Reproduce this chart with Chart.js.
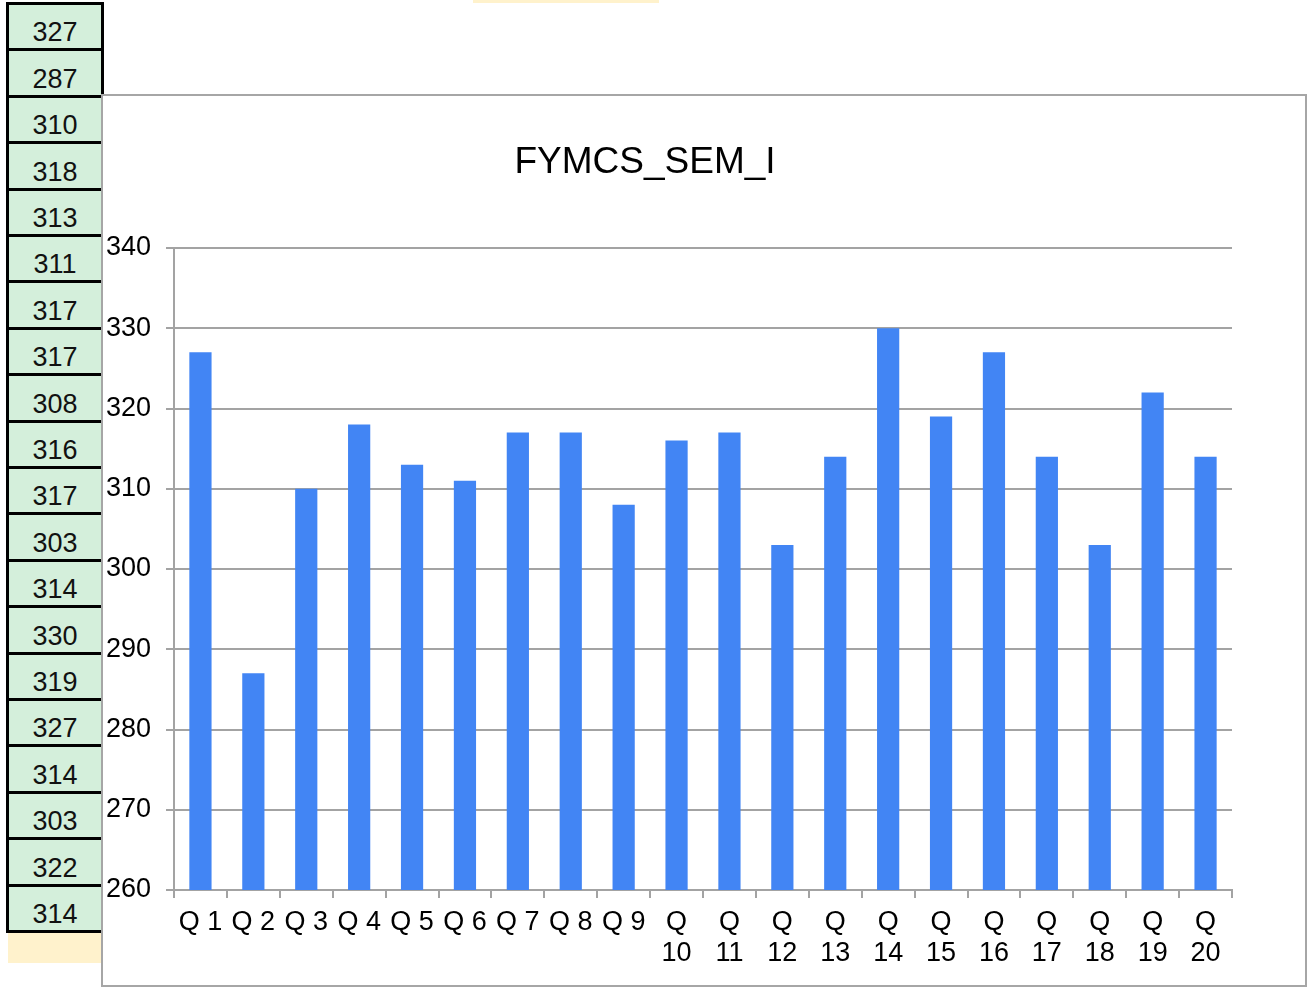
<!DOCTYPE html>
<html lang="en">
    <head>
        <meta charset="utf-8" />
        <title>FYMCS_SEM_I</title>
        <style>
            body {
                margin: 0;
                background: #ffffff;
                font-family: "Liberation Sans", Arial, sans-serif;
                width: 1308px;
                height: 988px;
                position: relative;
                overflow: hidden;
            }
            .sheet-col {
                position: absolute;
                left: 6px;
                top: 2px;
                width: 98px;
                height: 931px;
                box-sizing: border-box;
                border-left: 3px solid #000;
                border-right: 3px solid #000;
                background: #d4efdb;
            }
            .cell {
                position: absolute;
                left: 0;
                width: 92px;
                height: 46.4px;
                box-sizing: border-box;
                border-top: 3px solid #000;
            }
            .cell span {
                position: absolute;
                left: 0;
                right: 0;
                bottom: 2px;
                text-align: center;
                font-size: 27px;
                line-height: 27px;
                color: #111;
            }
            .cell.last {
                height: 3px;
                background: #000;
            }
            .yellow-top {
                position: absolute;
                left: 473px;
                top: 0;
                width: 186px;
                height: 3px;
                background: #fff2cc;
            }
            .yellow-bottom {
                position: absolute;
                left: 8px;
                top: 933px;
                width: 95px;
                height: 30px;
                background: #fff2cc;
            }
            .chart-box {
                position: absolute;
                left: 101px;
                top: 94px;
                width: 1206px;
                height: 893px;
                box-sizing: border-box;
                border: 2px solid #a6a6a6;
                background: #ffffff;
            }
            .chart-wrap {
                position: relative;
                width: 1202px;
                height: 889px;
            }
        </style>
    </head>
    <body>
        <div class="yellow-top"></div>
        <div class="sheet-col" id="sheetCol"></div>
        <div class="yellow-bottom"></div>

        <div class="chart-box">
            <div class="chart-wrap">
                <canvas id="semChart"></canvas>
            </div>
        </div>

        <script src="https://cdn.jsdelivr.net/npm/chart.js"></script>
        <script>
            const chartTitle = "FYMCS_SEM_I";
            const questionLabels = [
                "Q 1", "Q 2", "Q 3", "Q 4", "Q 5", "Q 6", "Q 7", "Q 8", "Q 9",
                ["Q", "10"], ["Q", "11"], ["Q", "12"], ["Q", "13"], ["Q", "14"],
                ["Q", "15"], ["Q", "16"], ["Q", "17"], ["Q", "18"], ["Q", "19"],
                ["Q", "20"],
            ];
            const scores = [
                327, 287, 310, 318, 313, 311, 317, 317, 308, 316,
                317, 303, 314, 330, 319, 327, 314, 303, 322, 314,
            ];
            const yMin = 260;
            const yMax = 340;
            const yStep = 10;

            // spreadsheet column with the raw scores
            const col = document.getElementById("sheetCol");
            const rowH = 46.4;
            scores.forEach((v, i) => {
                const cell = document.createElement("div");
                cell.className = "cell";
                cell.style.top = i * rowH + "px";
                cell.innerHTML = `<span>${v}</span>`;
                col.appendChild(cell);
            });
            const last = document.createElement("div");
            last.className = "cell last";
            last.style.top = scores.length * rowH + "px";
            col.appendChild(last);

            const gridGrey = "#a3a3a3";
            const font = { family: "'Liberation Sans', Arial, sans-serif", size: 27 };

            // title sits a bit left of the plot centre
            const titlePlugin = {
                id: "sheetTitle",
                afterDraw(chart) {
                    const ctx = chart.ctx;
                    ctx.save();
                    ctx.font = "37px 'Liberation Sans', Arial, sans-serif";
                    ctx.fillStyle = "#000";
                    ctx.textAlign = "center";
                    ctx.textBaseline = "middle";
                    ctx.fillText(chartTitle, 542, 67);
                    ctx.restore();
                },
            };

            new Chart(document.getElementById("semChart"), {
                type: "bar",
                data: {
                    labels: questionLabels,
                    datasets: [
                        {
                            data: scores,
                            backgroundColor: "#4285f4",
                            barPercentage: 0.42,
                            categoryPercentage: 1,
                        },
                    ],
                },
                options: {
                    responsive: true,
                    maintainAspectRatio: false,
                    animation: false,
                    layout: {
                        padding: { left: 3, top: 152, right: 73, bottom: 0 },
                    },
                    plugins: {
                        legend: { display: false },
                        tooltip: { enabled: false },
                        title: { display: false },
                    },
                    scales: {
                        x: {
                            grid: {
                                drawOnChartArea: false,
                                color: gridGrey,
                                lineWidth: 2,
                                tickLength: 8,
                            },
                            border: { color: gridGrey, width: 2 },
                            ticks: {
                                color: "#000",
                                font: { ...font, lineHeight: 1.15 },
                                padding: 9,
                                autoSkip: false,
                                maxRotation: 0,
                                minRotation: 0,
                            },
                            afterFit(scale) {
                                scale.height = 95;
                            },
                        },
                        y: {
                            min: yMin,
                            max: yMax,
                            grid: {
                                color: gridGrey,
                                lineWidth: 2,
                                tickLength: 8,
                            },
                            border: { color: gridGrey, width: 2 },
                            ticks: {
                                stepSize: yStep,
                                color: "#000",
                                font: font,
                                crossAlign: "far",
                            },
                            afterFit(scale) {
                                scale.width = 68;
                            },
                        },
                    },
                },
                plugins: [titlePlugin],
            });
        </script>
    </body>
</html>
